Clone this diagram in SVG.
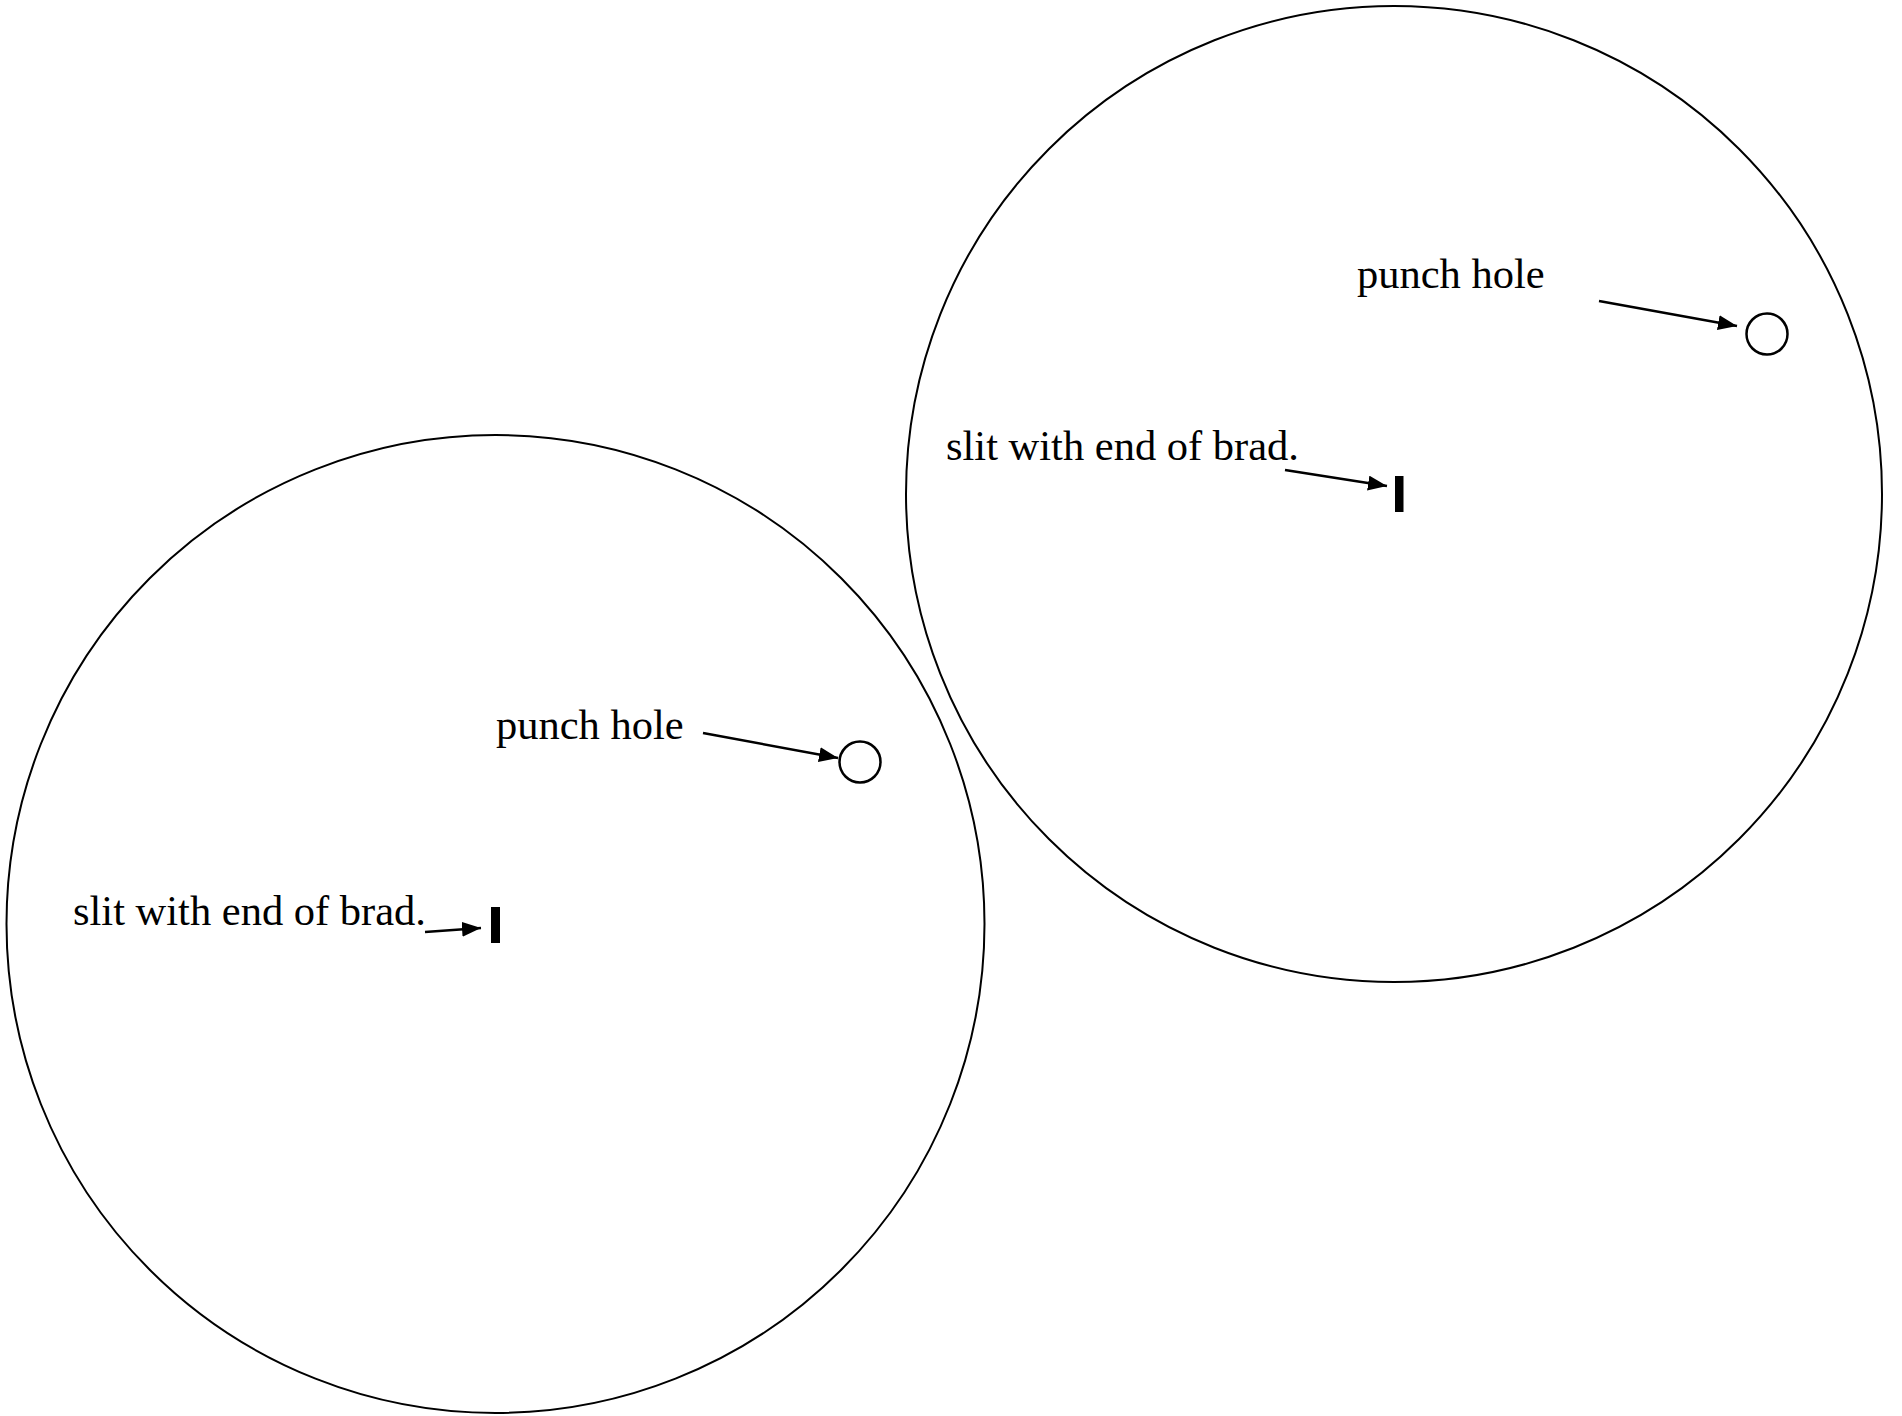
<svg xmlns="http://www.w3.org/2000/svg" width="1902" height="1416" viewBox="0 0 1902 1416">
<style>
.disc{fill:none;stroke:#000;stroke-width:2}
.hole{fill:none;stroke:#000;stroke-width:2.5}
.lbl{font-family:"Liberation Serif","Times New Roman",serif;font-size:42.5px;fill:#000}
.arr{stroke:#000;stroke-width:2.5;fill:none;marker-end:url(#ah)}
</style>
<defs>
<marker id="ah" markerUnits="userSpaceOnUse" markerWidth="19" markerHeight="15" refX="19" refY="7.5" orient="auto">
<path d="M0,0 L19,7.5 L0,15 z" fill="#000"/>
</marker>
</defs>
<rect width="1902" height="1416" fill="#fff"/>
<g id="disc-left">
<circle class="disc" cx="495.5" cy="924" r="489"/>
<circle class="hole" cx="860" cy="762" r="20.5"/>
<rect x="491" y="907" width="9" height="36" fill="#000"/>
<text class="lbl" x="496" y="739">punch hole</text>
<text class="lbl" x="73" y="925">slit with end of brad.</text>
</g>
<g id="disc-right">
<circle class="disc" cx="1394" cy="494" r="488"/>
<circle class="hole" cx="1767" cy="334" r="20.5"/>
<rect x="1395" y="476" width="8.5" height="36" fill="#000"/>
<text class="lbl" x="1357" y="288">punch hole</text>
<text class="lbl" x="946" y="460">slit with end of brad.</text>
</g>
<g id="connectors">
<line class="arr" x1="703" y1="733" x2="838" y2="758"/>
<line class="arr" x1="425" y1="932" x2="481" y2="928"/>
<line class="arr" x1="1599" y1="301" x2="1737" y2="326"/>
<line class="arr" x1="1285" y1="470" x2="1387" y2="486"/>
</g>
</svg>
